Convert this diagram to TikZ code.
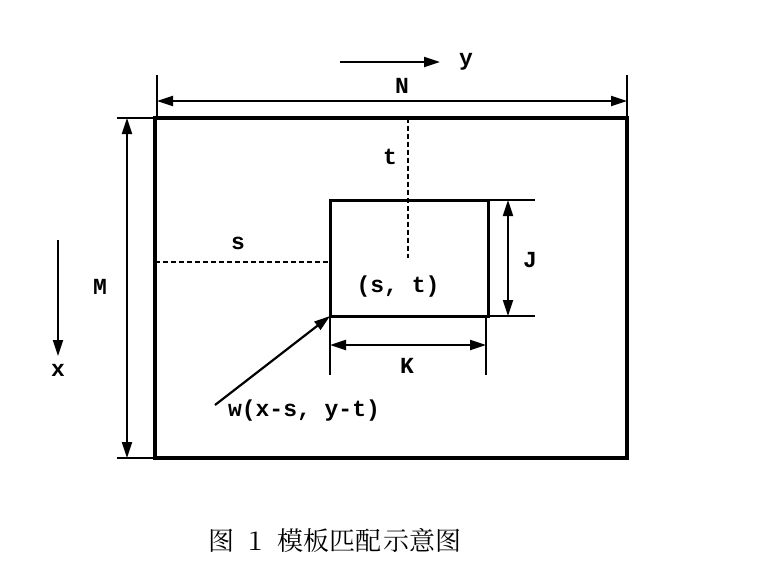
\documentclass[tikz,border=0pt]{standalone}
\usepackage{fontspec}
\setmainfont{Liberation Mono}
\newfontfamily\cjk{Noto Serif CJK SC}
\usetikzlibrary{arrows.meta}
\begin{document}
\begin{tikzpicture}[x=1pt,y=-1pt,
  dim/.style={line width=2.2pt,{Triangle[length=16pt,width=10pt]}-{Triangle[length=16pt,width=10pt]}},
  one/.style={line width=2.2pt,-{Triangle[length=16pt,width=10pt]}},
  thin/.style={line width=2.2pt},
  dsh/.style={line width=2pt,dash pattern=on 5pt off 3pt},
  lab/.style={font=\bfseries\fontsize{23}{25}\selectfont,inner sep=0pt}]
\useasboundingbox (0,0) rectangle (776,566);
\draw[line width=3.5pt] (155,118) rectangle (627,458);
\draw[thin] (157,75) -- (157,118);
\draw[thin] (627,75) -- (627,118);
\draw[thin] (117,118) -- (155,118);
\draw[thin] (117,458) -- (155,458);
\coordinate (nl) at (157,101); \coordinate (nr) at (627,101);
\draw[dim] (nl) -- (nr);
\node[lab] (N) at (402,86) {N};
\coordinate (ml) at (127,118); \coordinate (mr) at (127,458);
\draw[dim] (ml) -- (mr);
\node[lab] (M) at (100,287) {M};
\coordinate (ya) at (340,62); \coordinate (yb) at (440,62);
\draw[one] (ya) -- (yb);
\node[lab] (y) at (466,62) {y};
\coordinate (xa) at (58,240); \coordinate (xb) at (58,356);
\draw[one] (xa) -- (xb);
\node[lab] (x) at (58,370) {x};
\draw[line width=3pt] (330,200) rectangle (488,316);
\draw[thin] (488,200) -- (535,200);
\draw[thin] (488,316) -- (535,316);
\coordinate (ja) at (508,200); \coordinate (jb) at (508,316);
\draw[dim] (ja) -- (jb);
\node[lab] (J) at (530,260) {J};
\draw[thin] (330,316) -- (330,375);
\draw[thin] (486,316) -- (486,375);
\coordinate (ka) at (330,345); \coordinate (kb) at (486,345);
\draw[dim] (ka) -- (kb);
\node[lab] (K) at (407,366) {K};
\draw[dsh] (408,118) -- (408,258);
\draw[dsh] (155,262) -- (330,262);
\node[lab] (t) at (390,157) {t};
\node[lab] (s) at (238,243) {s};
\node[lab] (st) at (398,287) {(s, t)};
\coordinate (wa) at (215,405); \coordinate (wb) at (330,316);
\draw[one] (wa) -- (wb);
\node[lab] (w) at (304,411) {w(x-s, y-t)};
\node[font=\cjk\fontsize{26}{28}\selectfont] (cap) at (335,540) {图\hspace{14pt}1\hspace{14pt}模板匹配\hspace{2pt}示意图};
\end{tikzpicture}
\end{document}
